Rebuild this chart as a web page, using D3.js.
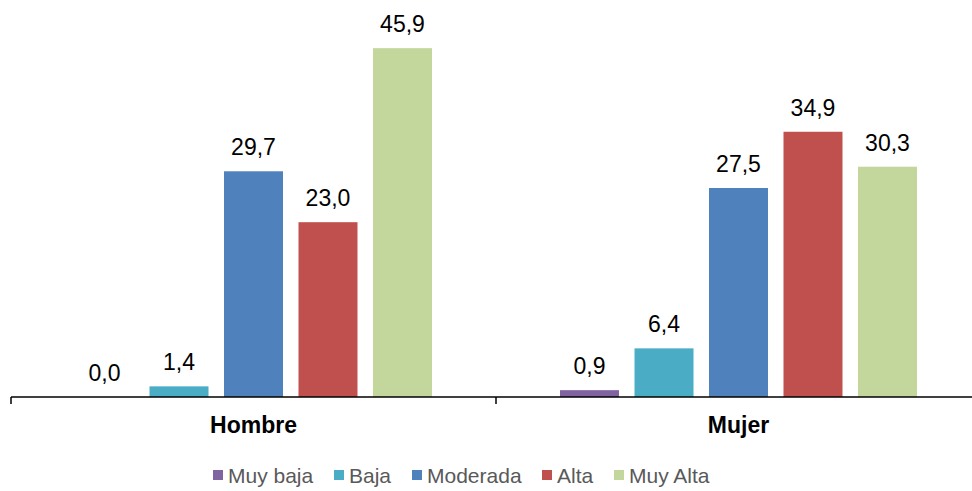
<!DOCTYPE html>
<html>
<head>
<meta charset="utf-8">
<script src="https://cdn.jsdelivr.net/npm/d3@7"></script>
<style>
  body { margin: 0; background: #fff; }
  text { font-family: "Liberation Sans", Arial, sans-serif; }
</style>
</head>
<body>
<div id="chart"></div>
<script>
// data
var groups = ["Hombre", "Mujer"];
var series = ["Muy baja", "Baja", "Moderada", "Alta", "Muy Alta"];
var hombre = [0.0, 1.4, 29.7, 23.0, 45.9];
var mujer = [0.9, 6.4, 27.5, 34.9, 30.3];
var colors = ["#8064A2", "#4BACC6", "#4F81BD", "#C0504D", "#C3D69B"];

var width = 972, height = 491;

var svg = d3.select("#chart")
  .append("svg")
    .attr("width", width)
    .attr("height", height);

var rows = groups.map(function(g, i) {
  var vals = i == 0 ? hombre : mujer;
  return { group: g, values: series.map(function(s, j) { return {key: s, value: vals[j]}; }) };
});

// scales
var x0 = d3.scaleBand()
  .domain(groups)
  .range([11, 981]);

var bw = x0.bandwidth();
var x1 = d3.scaleBand()
  .domain(series)
  .range([bw * 0.116, bw * 0.884])
  .paddingInner(0.208)
  .paddingOuter(0.104);

var y = d3.scaleLinear()
  .domain([0, 50])
  .range([397, 17]);

var color = d3.scaleOrdinal().domain(series).range(colors);

var fmt = function(v) { return d3.format(".1f")(v).replace(".", ","); };

// bars
var g = svg.selectAll(".grp")
  .data(rows)
  .enter()
  .append("g")
    .attr("class", "grp")
    .attr("transform", function(d) { return "translate(" + x0(d.group) + ",0)"; });

g.selectAll("rect")
  .data(function(d) { return d.values; })
  .enter()
  .append("rect")
    .attr("x", function(d) { return x1(d.key); })
    .attr("y", function(d) { return y(d.value); })
    .attr("width", x1.bandwidth())
    .attr("height", function(d) { return y(0) - y(d.value); })
    .attr("fill", function(d) { return color(d.key); });

g.selectAll(".lbl")
  .data(function(d) { return d.values; })
  .enter()
  .append("text")
    .attr("class", "lbl")
    .attr("x", function(d) { return x1(d.key) + x1.bandwidth() / 2; })
    .attr("y", function(d) { return y(d.value) - 16; })
    .attr("text-anchor", "middle")
    .style("font-size", "23px")
    .style("fill", "#000")
    .text(function(d) { return fmt(d.value); });

// x axis
var xAxis = svg.append("g")
  .attr("transform", "translate(0," + y(0) + ")")
  .call(d3.axisBottom(x0).tickSize(0).tickFormat(""));

xAxis.select(".domain")
  .attr("stroke", "#000")
  .attr("stroke-width", 1.5)
  .attr("d", "M11,0H981");

// boundary ticks between categories
var edges = [11, x0("Mujer"), 981];
xAxis.selectAll(".edge")
  .data(edges)
  .enter()
  .append("line")
    .attr("class", "edge")
    .attr("x1", function(d) { return d; })
    .attr("x2", function(d) { return d; })
    .attr("y1", 0)
    .attr("y2", 7)
    .attr("stroke", "#000")
    .attr("stroke-width", 1.5);

svg.selectAll(".cat")
  .data(groups)
  .enter()
  .append("text")
    .attr("class", "cat")
    .attr("x", function(d) { return x0(d) + bw / 2; })
    .attr("y", 433)
    .attr("text-anchor", "middle")
    .style("font-size", "23px")
    .style("font-weight", "bold")
    .style("fill", "#000")
    .text(function(d) { return d; });

// legend
var legX = [213, 334, 412, 542, 614];
var leg = svg.selectAll(".leg")
  .data(series)
  .enter()
  .append("g")
    .attr("class", "leg")
    .attr("transform", function(d, i) { return "translate(" + legX[i] + ",470)"; });

leg.append("rect")
  .attr("width", 10)
  .attr("height", 10)
  .attr("fill", function(d) { return color(d); });

leg.append("text")
  .attr("x", 15)
  .attr("y", 13)
  .style("font-size", "21px")
  .style("fill", "#595959")
  .text(function(d) { return d; });
</script>
</body>
</html>
